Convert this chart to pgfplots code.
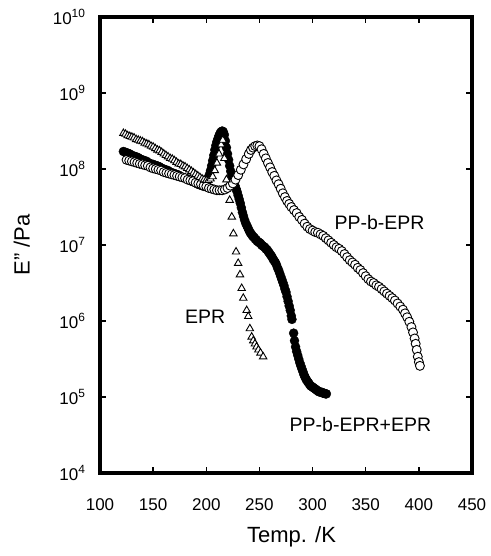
\documentclass[border=0pt]{standalone}
\usepackage{fontspec}
\setmainfont{Liberation Sans}
\usepackage{pgfplots}
\pgfplotsset{compat=1.18}
\begin{document}
\begin{tikzpicture}
\begin{axis}[
  name=ax, at={(0,0)}, anchor=south west,
  width=372pt, height=456pt, scale only axis,
  xmin=100, xmax=450, ymode=log, ymin=1e4, ymax=1e10,
  xtick={100,150,200,250,300,350,400,450},
  ytick={1e4,1e5,1e6,1e7,1e8,1e9,1e10},
  yticklabels={10\textsuperscript{4},10\textsuperscript{5},10\textsuperscript{6},10\textsuperscript{7},10\textsuperscript{8},10\textsuperscript{9},10\textsuperscript{10}},
  yminorticks=false,
  /pgf/number format/assume math mode=true,
  /pgf/number format/1000 sep={},
  tick align=inside, major tick length=6pt,
  tick style={line width=1.5pt, black},
  axis line style={line width=4.5pt},
  tick label style={font=\fontsize{17}{20}\selectfont},
  xticklabel style={anchor=center, yshift=-32pt},
  yticklabel style={anchor=east, xshift=-11pt},
  every axis x label/.style={at={(axis description cs:0.515,-0.14)}, anchor=center, font=\fontsize{22}{26}\selectfont},
  every axis y label/.style={at={(axis description cs:-0.21,0.5)}, rotate=90, anchor=center, font=\fontsize{22}{26}\selectfont},
  xlabel={Temp. /K}, ylabel={E" /Pa},
  clip=false,
]
% PP-b-EPR+EPR (filled circles)
\addplot[only marks, mark=*, mark size=4.5pt, mark options={fill=black, draw=black}] coordinates {
(122,1.70e8)(124,1.66e8)(126,1.62e8)(128,1.58e8)(130,1.51e8)(132,1.48e8)(134,1.45e8)(136,1.41e8)(138,1.35e8)(140,1.32e8)
(142,1.29e8)(144,1.26e8)(146,1.20e8)(148,1.17e8)(150,1.15e8)(152,1.12e8)(154,1.10e8)(156,1.07e8)(158,1.02e8)(160,1.00e8)
(162,9.77e7)(164,9.55e7)(166,9.12e7)(168,8.91e7)(170,8.71e7)(172,8.51e7)(174,8.32e7)(176,7.94e7)(178,7.76e7)(180,7.59e7)
(182,7.41e7)(184,7.24e7)(186,6.92e7)(188,6.76e7)(190,6.61e7)(192,6.31e7)(194,6.17e7)(196,6.03e7)(198,5.89e7)(199,6.03e7)
(200,6.31e7)(201,6.92e7)(202,7.59e7)(203,8.51e7)(204,9.55e7)(205,1.10e8)(206,1.29e8)(207,1.51e8)(208,1.78e8)(209,2.04e8)
(210,2.29e8)(211,2.51e8)(212,2.75e8)(213,2.95e8)(214,3.09e8)(215,3.16e8)(216,3.09e8)(217,2.82e8)(218,2.34e8)(219,1.91e8)
(220,1.58e8)(221,1.32e8)(222,1.10e8)(223,9.33e7)(224,8.13e7)(225,7.24e7)(226,6.61e7)(227,6.03e7)(228,5.50e7)(229,5.01e7)
(230,4.47e7)(231,3.98e7)(232,3.55e7)(233,3.09e7)(234,2.69e7)(235,2.40e7)(236,2.14e7)(237,1.95e7)(238,1.82e7)(239,1.70e7)
(240,1.58e7)(241,1.48e7)(242,1.41e7)(243,1.35e7)(244,1.29e7)(245,1.26e7)(246,1.20e7)(247,1.17e7)(248,1.12e7)(249,1.10e7)
(250,1.07e7)(251,1.05e7)(252,1.00e7)(253,9.77e6)(254,9.55e6)(255,9.33e6)(256,8.91e6)(257,8.71e6)(258,8.32e6)(259,7.94e6)
(260,7.59e6)(261,7.24e6)(262,6.92e6)(263,6.46e6)(264,6.17e6)(265,5.89e6)(266,5.50e6)(267,5.01e6)(268,4.68e6)(269,4.27e6)
(270,3.89e6)(271,3.55e6)(272,3.24e6)(273,2.95e6)(274,2.63e6)(275,2.40e6)(276,2.09e6)(277,1.82e6)(278,1.58e6)(279,1.38e6)
(280,1.17e6)(280.6,1.05e6)(282.2,6.92e5)(283,5.50e5)(284,4.57e5)(285,3.98e5)(286,3.55e5)(287,3.16e5)(288,2.82e5)(289,2.57e5)
(290,2.34e5)(291,2.14e5)(292,1.95e5)(293,1.82e5)(294,1.70e5)(295,1.62e5)(296,1.55e5)(297,1.48e5)(298,1.41e5)(299,1.38e5)
(300,1.35e5)(301,1.32e5)(302,1.29e5)(303,1.26e5)(304,1.23e5)(305,1.20e5)(306,1.17e5)(307,1.17e5)(308,1.15e5)(309,1.15e5)
(310,1.12e5)(311,1.12e5)(312,1.10e5)(313,1.10e5)
};
% PP-b-EPR (open circles)
\addplot[only marks, mark=*, mark size=4.5pt, mark options={fill=white, draw=black, line width=0.9pt}] coordinates {
(125,1.32e8)(127.5,1.29e8)(130,1.26e8)(132.5,1.23e8)(135,1.20e8)(137.5,1.17e8)(140,1.15e8)(142.5,1.12e8)(145,1.10e8)(147.5,1.05e8)
(150,1.02e8)(152.5,1.00e8)(155,9.77e7)(157.5,9.55e7)(160,9.12e7)(162.5,8.91e7)(165,8.71e7)(167.5,8.51e7)(170,8.32e7)(172.5,8.13e7)
(175,7.94e7)(177.5,7.76e7)(180,7.59e7)(182.5,7.24e7)(185,7.08e7)(187.5,6.92e7)(190,6.61e7)(192.5,6.46e7)(195,6.31e7)(197.5,6.03e7)
(200,5.89e7)(202.5,5.62e7)(205,5.50e7)(207.5,5.37e7)(210,5.25e7)(212.5,5.25e7)(215,5.25e7)(217.5,5.37e7)(220,5.62e7)(222.5,6.03e7)
(225,6.46e7)(227.5,7.24e7)(230,8.32e7)(232.5,9.77e7)(235,1.15e8)(237.5,1.35e8)(240,1.58e8)(242,1.78e8)(244,1.91e8)(246,2.00e8)
(248,2.04e8)(250,2.00e8)(252,1.82e8)(254,1.58e8)(256,1.38e8)(258,1.20e8)(260,1.05e8)(262,9.12e7)(264,8.13e7)(266,7.08e7)
(268,6.31e7)(270,5.50e7)(272,4.79e7)(274,4.27e7)(276,3.80e7)(278,3.47e7)(280,3.16e7)(282.5,2.88e7)(285,2.63e7)(287.5,2.34e7)
(290,2.14e7)(292.5,1.91e7)(295,1.74e7)(297.5,1.62e7)(300,1.55e7)(302.5,1.48e7)(305,1.45e7)(307.5,1.38e7)(310,1.32e7)(312.5,1.23e7)
(315,1.15e7)(317.5,1.07e7)(320,1.00e7)(322.5,9.33e6)(325,8.91e6)(327.5,8.32e6)(330,7.59e6)(332.5,6.92e6)(335,6.31e6)(337.5,5.89e6)
(340,5.50e6)(342.5,5.01e6)(345,4.68e6)(347.5,4.27e6)(350,3.89e6)(352.5,3.55e6)(355,3.31e6)(357.5,3.16e6)(360,2.95e6)(362.5,2.82e6)
(365,2.63e6)(367.5,2.45e6)(370,2.29e6)(372.5,2.14e6)(375,2.00e6)(377.5,1.86e6)(380,1.70e6)(382.5,1.55e6)(385,1.41e6)(387,1.26e6)
(389,1.12e6)(391,9.77e5)(393,8.32e5)(394.5,7.08e5)(396,5.89e5)(397,5.01e5)(398,4.17e5)(399,3.39e5)(400,2.88e5)(401,2.57e5)
};
% EPR (open triangles)
\addplot[only marks, mark=triangle*, mark size=4.3pt, mark options={fill=white, draw=black, line width=0.9pt}] coordinates {
(122,2.95e8)(124,2.88e8)(126,2.75e8)(128,2.69e8)(130,2.63e8)(132,2.57e8)(134,2.45e8)(136,2.40e8)(138,2.34e8)(140,2.29e8)
(142,2.19e8)(144,2.14e8)(146,2.09e8)(148,2.00e8)(150,1.95e8)(152,1.86e8)(154,1.78e8)(156,1.74e8)(158,1.66e8)(160,1.58e8)
(162,1.51e8)(164,1.45e8)(166,1.38e8)(168,1.35e8)(170,1.29e8)(172,1.23e8)(174,1.17e8)(176,1.15e8)(178,1.10e8)(180,1.07e8)
(182,1.02e8)(184,9.77e7)(186,9.33e7)(188,8.91e7)(190,8.51e7)(192,8.13e7)(194,7.76e7)(196,7.41e7)(198,7.24e7)(200,7.08e7)
(202,7.08e7)(204,7.41e7)(206,7.94e7)(208,9.55e7)(210,1.20e8)(212,1.58e8)(214,2.09e8)(215.5,2.40e8)(217,1.38e8)(219,7.24e7)
(222,3.89e7)(224,2.34e7)(225.5,1.41e7)(228,8.13e6)(230,5.75e6)(231.7,4.07e6)(233.3,2.69e6)(234.8,2.00e6)(238,1.38e6)(239.5,1.15e6)
(241,7.94e5)(242.7,6.17e5)(244.2,5.50e5)(245.8,5.01e5)(247.3,4.57e5)(249,4.17e5)(251,3.80e5)(253.5,3.39e5)
};
\node[font=\fontsize{19.5}{23}\selectfont] at (axis cs:363,2.0e7) {PP-b-EPR};
\node[font=\fontsize{19.5}{23}\selectfont] at (axis cs:199,1.15e6) {EPR};
\node[font=\fontsize{19.5}{23}\selectfont] at (axis cs:345,4.3e4) {PP-b-EPR+EPR};
\end{axis}
\pgfresetboundingbox
\path ([shift={(-100pt,-83pt)}]ax.south west) rectangle ([shift={(19pt,17pt)}]ax.north east);
\end{tikzpicture}
\end{document}
